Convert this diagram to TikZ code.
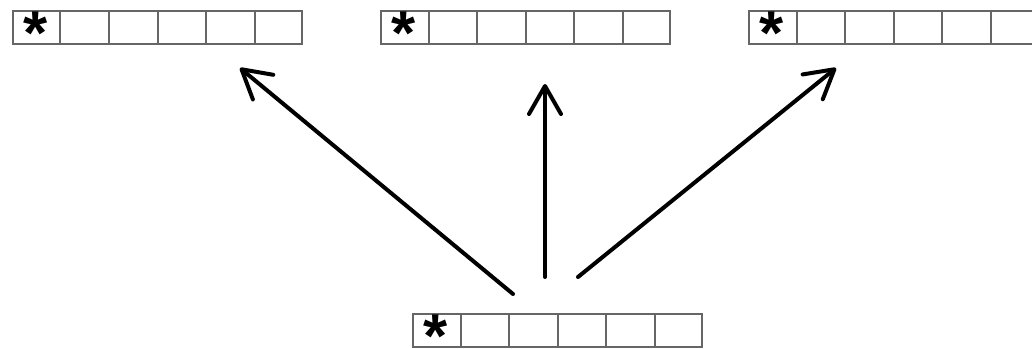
\documentclass[tikz,border=0pt]{standalone}
\usepackage{fontspec}
\newfontfamily\astfont{Liberation Sans}
\usetikzlibrary{arrows.meta,calc}
\begin{document}
\begin{tikzpicture}[x=1pt,y=-1pt,
  arr/.style={line width=4pt,line cap=round,line join=round,-{Straight Barb[length=28pt,width=32pt,round]}},
  arraybox/.style={draw=black!60,line width=2pt,rectangle,minimum width=289pt,minimum height=33pt,inner sep=0pt,anchor=north west},
  cellline/.style={draw=black!60,line width=2pt},
  ast/.style={inner sep=0pt,anchor=north,font=\astfont\bfseries\fontsize{62}{62}\selectfont}]
\useasboundingbox (0,0) rectangle (1032,348);
% arrays
\node[arraybox] (tl) at (12,10) {};
\node[arraybox] (tm) at (380,10) {};
\node[arraybox] (tr) at (748,10) {};
\node[arraybox] (bt) at (412,313) {};
\foreach \n in {tl,tm,tr,bt}{
  \foreach \i in {1,...,5}{
    \draw[cellline] ($(\n.north west)!\i/6!(\n.north east)$) -- ($(\n.south west)!\i/6!(\n.south east)$);
  }
}
\node[ast] (a1) at ($(tl.north west)+(24,1.5)$) {*};
\node[ast] (a2) at ($(tm.north west)+(24,1.5)$) {*};
\node[ast] (a3) at ($(tr.north west)+(24,1.5)$) {*};
\node[ast] (a4) at ($(bt.north west)+(24,2)$) {*};
% arrows
\coordinate (s1) at (513,294);
\coordinate (e1) at (240,68);
\coordinate (s2) at (545,277);
\coordinate (e2) at (545,84);
\coordinate (s3) at (578,277);
\coordinate (e3) at (836,68);
\draw[arr] (s1) -- (e1);
\draw[arr] (s2) -- (e2);
\draw[arr] (s3) -- (e3);
\end{tikzpicture}
\end{document}
